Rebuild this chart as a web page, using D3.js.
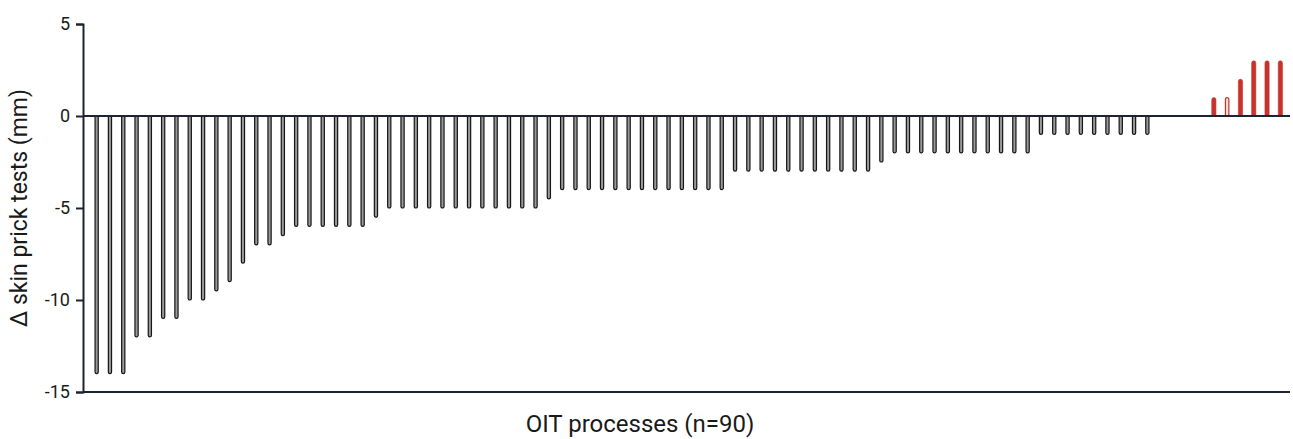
<!DOCTYPE html>
<html>
<head>
<meta charset="utf-8">
<script src="https://cdn.jsdelivr.net/npm/d3@7"></script>
<style>
  html, body { margin: 0; padding: 0; background: #fff; }
  svg { display: block; font-family: Roboto, "Noto Sans", sans-serif; }
</style>
</head>
<body>
<svg id="chart" width="1293" height="439"></svg>
<script>
// ---- data ----
const processIds = d3.range(1, 91);
const deltaValues = [
  -14, -14, -14, -12, -12, -11, -11, -10, -10, -9.5,
  -9, -8, -7, -7, -6.5, -6, -6, -6, -6, -6,
  -6, -5.5, -5, -5, -5, -5, -5, -5, -5, -5,
  -5, -5, -5, -5, -4.5, -4, -4, -4, -4, -4,
  -4, -4, -4, -4, -4, -4, -4, -4, -3, -3,
  -3, -3, -3, -3, -3, -3, -3, -3, -3, -2.5,
  -2, -2, -2, -2, -2, -2, -2, -2, -2, -2,
  -2, -1, -1, -1, -1, -1, -1, -1, -1, -1,
  0, 0, 0, 0, 1, 1, 2, 3, 3, 3
];
const hollowIds = [86];
const yTicks = [5, 0, -5, -10, -15];
const yLabel = "Δ skin prick tests (mm)";
const xLabel = "OIT processes (n=90)";

// ---- layout ----
const svg = d3.select("#chart");
const axisColor = "#1c2431";
const x = d3.scaleBand().domain(processIds).range([90, 1287]);
const y = d3.scaleLinear().domain([-15, 5]).range([392, 24]);

const data = processIds.map((id, i) => ({ id, v: deltaValues[i] }));

function barPath(d, barW) {
  const cx = x(d.id) + x.bandwidth() / 2;
  const y0 = y(0), y1 = y(d.v);
  const r = barW / 2;
  const l = cx - r, rt = cx + r;
  if (d.v < 0) {
    const yb = Math.max(y1 - r, y0);
    return `M${l},${y0} L${l},${yb} A${r},${r} 0 0 0 ${rt},${yb} L${rt},${y0} Z`;
  } else {
    const yt = Math.min(y1 + r, y0);
    return `M${l},${y0} L${l},${yt} A${r},${r} 0 0 1 ${rt},${yt} L${rt},${y0} Z`;
  }
}

// negative bars
svg.append("g").selectAll("path")
  .data(data.filter(d => d.v < 0))
  .join("path")
  .attr("d", d => barPath(d, 3.2))
  .attr("fill", "#9a9a9a")
  .attr("stroke", "#161616")
  .attr("stroke-width", 1.2);

// positive bars
svg.append("g").selectAll("path")
  .data(data.filter(d => d.v > 0))
  .join("path")
  .attr("d", d => barPath(d, hollowIds.includes(d.id) ? 3.4 : 4.2))
  .attr("fill", d => hollowIds.includes(d.id) ? "#f6dcd9" : "#c8322b")
  .attr("stroke", "#c8322b")
  .attr("stroke-width", d => hollowIds.includes(d.id) ? 1.2 : 0.6);

// zero line
svg.append("line")
  .attr("x1", 83).attr("x2", 1290)
  .attr("y1", y(0)).attr("y2", y(0))
  .attr("stroke", axisColor).attr("stroke-width", 2.2);

// bottom axis line
svg.append("line")
  .attr("x1", 83).attr("x2", 1290)
  .attr("y1", y(-15)).attr("y2", y(-15))
  .attr("stroke", axisColor).attr("stroke-width", 2);

// y axis
const yAxis = svg.append("g")
  .attr("transform", "translate(83,0)")
  .call(d3.axisLeft(y).tickValues(yTicks).tickSize(7).tickPadding(6).tickFormat(d3.format("d")));
yAxis.select(".domain").attr("stroke", axisColor).attr("stroke-width", 2);
yAxis.selectAll(".tick line").attr("stroke", axisColor).attr("stroke-width", 2);
yAxis.selectAll(".tick text")
  .attr("fill", "#1a1a1a").style("font-size", "18px").style("font-family", "Roboto, sans-serif");
yAxis.selectAll(".tick text").text(d => d < 0 ? "-" + Math.abs(d) : d);

// labels
svg.append("text")
  .attr("transform", `translate(27,${y(-5)}) rotate(-90)`)
  .attr("text-anchor", "middle")
  .attr("fill", "#1a1a1a")
  .style("font-size", "23px")
  .text(yLabel);

svg.append("text")
  .attr("x", 640).attr("y", 432)
  .attr("text-anchor", "middle")
  .attr("fill", "#1a1a1a")
  .style("font-size", "24px")
  .text(xLabel);
</script>
</body>
</html>
